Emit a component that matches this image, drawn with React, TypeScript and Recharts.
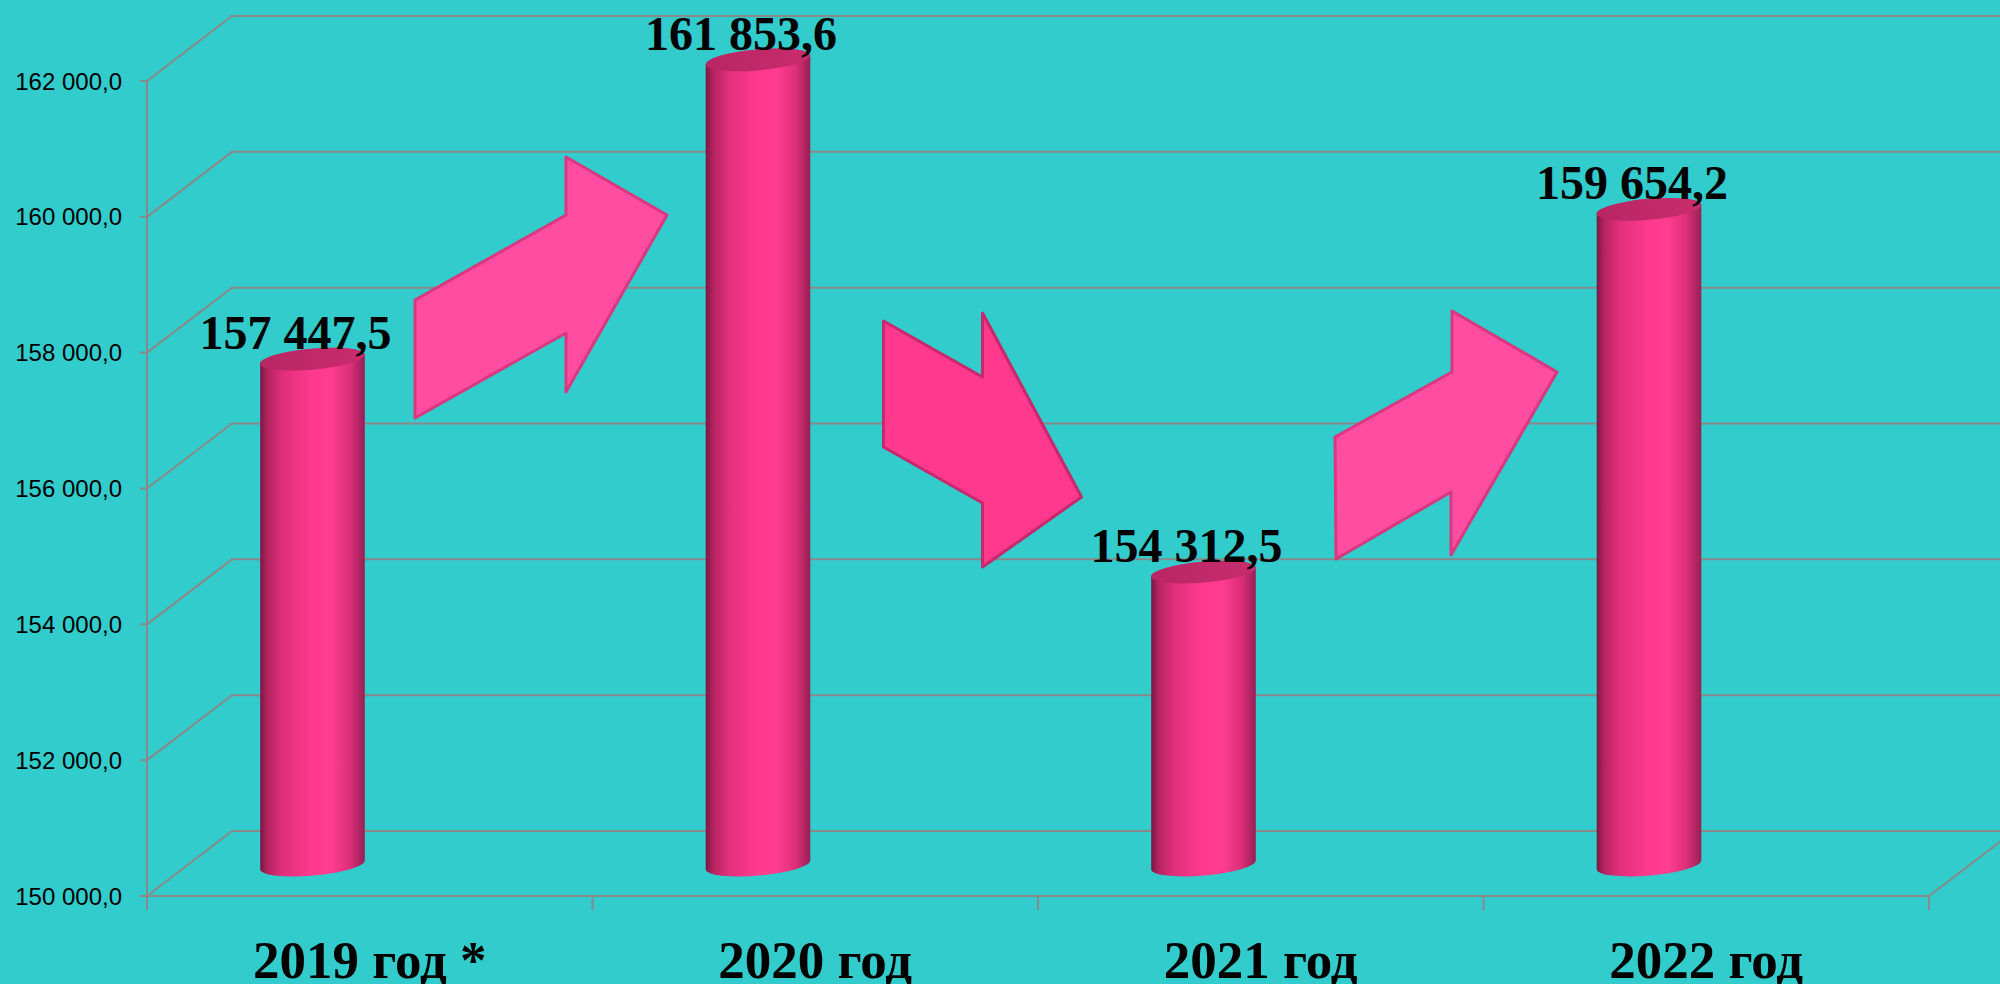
import React from 'react';
import { BarChart, Bar, XAxis, YAxis, CartesianGrid, LabelList } from 'recharts';

const categories = ['2019 год *', '2020 год', '2021 год', '2022 год'];
const values = [157447.5, 161853.6, 154312.5, 159654.2];
const yTicks = [150000, 152000, 154000, 156000, 158000, 160000, 162000];

const data = categories.map((name, i) => ({ name, value: values[i] }));

const W = 2000;
const H = 984;
const MARGIN = { top: 81, right: 71, bottom: 0, left: 0 };
const Y_AXIS_W = 147;
const X_AXIS_H = 88;
const BAND = (W - MARGIN.left - MARGIN.right - Y_AXIS_W) / categories.length;

// 3D depth offsets
const DEPTH_DX = 85;
const DEPTH_DY = -65;
const BAR_DX = -57;
const BAR_DY = -31;
const TILT = -5;

const BG = '#33CCCC';
const GRID = '#898989';

const fmt = (v: number) => {
  const [i, d] = v.toFixed(1).split('.');
  return i.replace(/\B(?=(\d{3})+(?!\d))/g, ' ') + ',' + d;
};

// Decorative block arrows, drawn with the bar they point to: offsets from that bar's centre x and the floor y
const ARROWS: Record<number, { pts: [number, number][]; fill: string; stroke: string }> = {
  1: {
    pts: [[-343, -478], [-343, -596], [-192, -681], [-192, -739], [-91, -681], [-192, -504], [-192, -563]],
    fill: '#FF4DA1',
    stroke: '#D9387F',
  },
  2: {
    pts: [[-320, -575], [-221, -519], [-221, -583], [-122, -399], [-221, -329], [-221, -393], [-320, -449]],
    fill: '#FF3A8E',
    stroke: '#C8286C',
  },
  3: {
    pts: [[-314, -459], [-197, -524], [-197, -585], [-92, -524], [-198, -341], [-198, -404], [-313, -337]],
    fill: '#FF4DA1',
    stroke: '#D9387F',
  },
};

const Cylinder = (props: any) => {
  const { x, y, width, height, index } = props;
  const rx = width / 2;
  const ry = 10.5;
  const cx = x + width / 2 + BAR_DX;
  const top = y + BAR_DY;
  const floor = y + height;
  const bottom = floor + BAR_DY;
  const t = (TILT * Math.PI) / 180;
  const ex = rx * Math.cos(t);
  const ey = rx * Math.sin(t); // negative
  const side = `M ${cx - ex} ${top - ey} L ${cx - ex} ${bottom - ey} A ${rx} ${ry} ${TILT} 0 0 ${cx + ex} ${bottom + ey} L ${cx + ex} ${top + ey} A ${rx} ${ry} ${TILT} 0 0 ${cx - ex} ${top - ey} Z`;
  const arrow = ARROWS[index];
  return (
    <g>
      {arrow && (
        <polygon
          points={arrow.pts.map(([dx, dy]) => `${cx + dx},${floor + dy}`).join(' ')}
          fill={arrow.fill}
          stroke={arrow.stroke}
          strokeWidth={3}
          strokeLinejoin="round"
        />
      )}
      <path d={side} fill="url(#cylSide)" />
      <ellipse cx={cx} cy={top} rx={rx} ry={ry} fill="url(#cylTop)" transform={`rotate(${TILT} ${cx} ${top})`} />
    </g>
  );
};

const ValueLabel = (props: any) => {
  const { x, y, width, value } = props;
  return (
    <text
      x={x + width / 2 + BAR_DX - 17}
      y={y - 41}
      textAnchor="middle"
      fontFamily="'Liberation Serif', 'Times New Roman', serif"
      fontWeight="bold"
      fontSize={48}
      fill="#000"
    >
      {fmt(value)}
    </text>
  );
};

const XTick = (props: any) => {
  const { x, y, payload, index } = props;
  const last = index === categories.length - 1;
  return (
    <g>
      <line x1={x - BAND / 2} y1={y} x2={x - BAND / 2} y2={y + 14} stroke={GRID} strokeWidth={2} />
      {last && <line x1={x + BAND / 2} y1={y} x2={x + BAND / 2} y2={y + 14} stroke={GRID} strokeWidth={2} />}
      <text
        x={x}
        y={y + 82}
        textAnchor="middle"
        fontFamily="'Liberation Serif', 'Times New Roman', serif"
        fontWeight="bold"
        fontSize={53}
        fill="#000"
      >
        {payload.value}
      </text>
    </g>
  );
};

const gridLine = (p: any) => {
  const { x1, y1, x2, index } = p;
  const isFloor = Math.abs(y1 - (H - X_AXIS_H)) < 1;
  return (
    <g key={`grid-${index}`}>
      <path
        d={`M ${x1} ${y1} L ${x1 + DEPTH_DX} ${y1 + DEPTH_DY} L ${x2 + DEPTH_DX} ${y1 + DEPTH_DY}`}
        fill="none"
        stroke={GRID}
        strokeWidth={2}
      />
      {isFloor && (
        <path
          d={`M ${x1} ${y1} L ${x2} ${y1} L ${x2 + DEPTH_DX} ${y1 + DEPTH_DY}`}
          fill="none"
          stroke={GRID}
          strokeWidth={2}
        />
      )}
    </g>
  );
};

export default function App() {
  return (
    <div style={{ position: 'absolute', left: 0, top: 0, width: W, height: H, background: BG, overflow: 'hidden' }}>
      <BarChart width={W} height={H} data={data} margin={MARGIN}>
        <defs>
          <linearGradient id="cylSide" x1="0" y1="0" x2="1" y2="0">
            <stop offset="0%" stopColor="#7A1643" />
            <stop offset="7%" stopColor="#B4245F" />
            <stop offset="22%" stopColor="#E22F7C" />
            <stop offset="50%" stopColor="#FF3A8E" />
            <stop offset="68%" stopColor="#FF3D90" />
            <stop offset="86%" stopColor="#DC2F79" />
            <stop offset="100%" stopColor="#962055" />
          </linearGradient>
          <linearGradient id="cylTop" x1="0" y1="0" x2="1" y2="0">
            <stop offset="0%" stopColor="#B82663" />
            <stop offset="100%" stopColor="#C92C6C" />
          </linearGradient>
        </defs>
        <CartesianGrid horizontal={gridLine} vertical={false} />
        <XAxis
          dataKey="name"
          height={X_AXIS_H}
          interval={0}
          tickLine={false}
          tickSize={0}
          tickMargin={0}
          axisLine={{ stroke: GRID, strokeWidth: 2 }}
          tick={XTick}
        />
        <YAxis
          width={Y_AXIS_W}
          domain={[150000, 162000]}
          ticks={yTicks}
          tickFormatter={fmt}
          tickSize={7}
          tickMargin={18}
          axisLine={{ stroke: GRID, strokeWidth: 2 }}
          tickLine={{ stroke: GRID, strokeWidth: 2 }}
          tick={{ fill: '#000', fontSize: 24, fontFamily: "'Liberation Sans', Arial, sans-serif" }}
        />
        <Bar dataKey="value" barSize={105} shape={Cylinder} isAnimationActive={false}>
          <LabelList dataKey="value" content={ValueLabel} />
        </Bar>
      </BarChart>
    </div>
  );
}
